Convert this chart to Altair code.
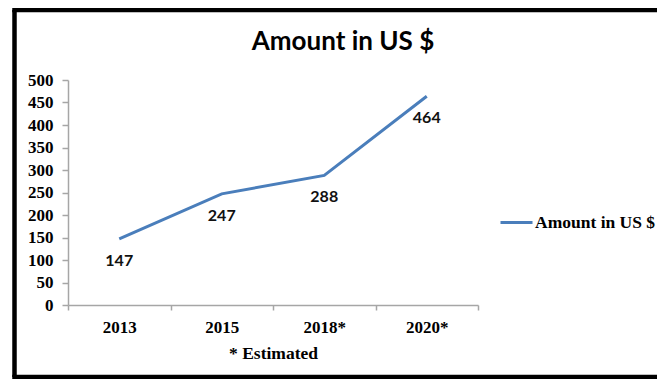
import altair as alt
import pandas as pd

years = ["2013", "2015", "2018*", "2020*"]
amounts = [147, 247, 288, 464]
series_name = "Amount in US $"
y_ticks = [0, 50, 100, 150, 200, 250, 300, 350, 400, 450, 500]

df = pd.DataFrame({"year": years, "amount": amounts, "series": [series_name] * len(years)})

SERIF = "Liberation Serif"
SANS = "Lato"
GRAY = "#a6a6a6"

x_enc = alt.X(
    "year:N",
    sort=years,
    bandPosition=0.5,
    scale=alt.Scale(type="band", paddingInner=0, paddingOuter=0),
    axis=alt.Axis(
        title="* Estimated",
        labelAngle=0,
        tickBand="extent",
        domainColor=GRAY,
        domainWidth=1.5,
        tickColor=GRAY,
        tickWidth=1.5,
        tickSize=5,
        labelFont=SERIF,
        labelFontSize=17,
        labelFontWeight="bold",
        labelColor="black",
        labelPadding=9,
        titleFont=SERIF,
        titleFontSize=17.5,
        titleFontWeight="bold",
        titleColor="black",
        titlePadding=9,
        grid=False,
    ),
)

y_enc = alt.Y(
    "amount:Q",
    scale=alt.Scale(domain=[0, 500], nice=False, zero=True),
    axis=alt.Axis(
        values=y_ticks,
        title=None,
        domainColor=GRAY,
        domainWidth=1.5,
        tickColor=GRAY,
        tickWidth=1.5,
        tickSize=6,
        labelFont=SERIF,
        labelFontSize=17,
        labelFontWeight="bold",
        labelColor="black",
        labelPadding=9,
        labelOverlap=False,
        labelSeparation=0,
        labelFlush=False,
        grid=False,
    ),
)

base = alt.Chart(df).encode(x=x_enc, y=y_enc)

line = base.mark_line(strokeWidth=3).encode(
    color=alt.Color(
        "series:N",
        scale=alt.Scale(range=["#4a7ebb"]),
        legend=alt.Legend(
            title=None,
            orient="none",
            legendX=431,
            legendY=125,
            symbolType="stroke",
            symbolSize=1024,
            symbolStrokeWidth=3,
            labelFont=SERIF,
            labelFontSize=17.5,
            labelFontWeight="bold",
            labelColor="black",
            labelOffset=1,
            padding=0,
        ),
    ),
)

labels = base.mark_text(dy=22, font=SANS, fontSize=16, fontWeight="bold", color="#111111").encode(
    text=alt.Text("amount:Q"),
)

frame = alt.Data(values=[{"k": 1}])
border_left = alt.Chart(frame).mark_rule(color="black", strokeWidth=4.5).encode(
    x=alt.value(-53.5), y=alt.value(-70), y2=alt.value(297)
)
border_top = alt.Chart(frame).mark_rule(color="black", strokeWidth=4.5).encode(
    x=alt.value(-55.75), x2=alt.value(2000), y=alt.value(-70)
)
border_bottom = alt.Chart(frame).mark_rule(color="black", strokeWidth=4.5).encode(
    x=alt.value(-55.75), x2=alt.value(2000), y=alt.value(297)
)

chart = alt.layer(line, labels, border_left, border_top, border_bottom).properties(
    width=410,
    height=225,
    background="white",
    padding={"left": 60, "top": 72, "right": 179, "bottom": 74},
    autosize=alt.AutoSizeParams(type="none"),
    title=alt.TitleParams(
        "Amount in US $",
        font=SANS,
        fontSize=26,
        fontWeight="bold",
        color="black",
        anchor="middle",
        frame="group",
        dx=70,
        baseline="alphabetic",
        offset=-68,
    ),
).configure_view(stroke=None).configure_axisY(labelOverlap=False)

chart.save("out.html", embed_options={"renderer": "svg", "actions": False})
